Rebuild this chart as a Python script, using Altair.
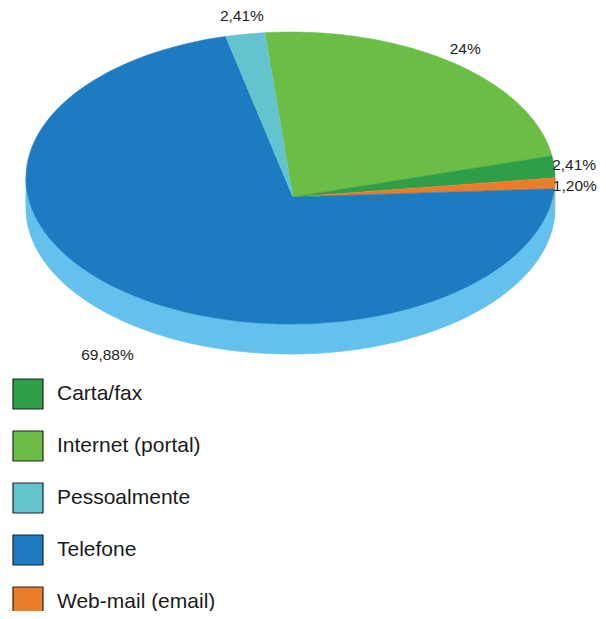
import altair as alt
import pandas as pd

# Slices in drawing order (clockwise starting near 12 o'clock)
categories = ["Internet (portal)", "Carta/fax", "Web-mail (email)", "Telefone", "Pessoalmente"]
values = [24.10, 2.41, 1.20, 69.88, 2.41]
labels = ["24%", "2,41%", "1,20%", "69,88%", "2,41%"]

# Legend order and colours
legend_order = ["Carta/fax", "Internet (portal)", "Pessoalmente", "Telefone", "Web-mail (email)"]
top_colors = ["#2F9E48", "#6BBD45", "#63C3CF", "#1C7BC1", "#EA7D29"]
side_colors = ["#8CCF6A", "#5DB864", "#F4A562", "#64C1ED", "#8FD8E0"]  # drawing order

df = pd.DataFrame({
    "cat": categories,
    "value": values,
    "label": labels,
    "side": side_colors,
    "idx": list(range(len(categories))),
})
legend_df = pd.DataFrame({"cat": legend_order})

# Geometry (pixels in page coordinates) and style constants
W, H = 590, 603
CX, CY = 290.5, 178.0      # ellipse centre
RX, RY = 264.5, 146.0      # ellipse radii
AX, AY = 293.0, 197.0      # apex of the wedges
DEPTH = 30.0
OFF = -5.5 * 3.141592653589793 / 180
LRX, LRY, LD = RX + 20, RY + 18, 67

xs = alt.Scale(domain=[8, 8 + W], nice=False, zero=False)
ys = alt.Scale(domain=[8, 8 + H], nice=False, zero=False, reverse=True)
color_scale = alt.Scale(domain=legend_order, range=top_colors)

base = alt.Chart(df).transform_joinaggregate(
    total="sum(value)"
).transform_window(
    cum="sum(value)", sort=[alt.SortField("idx")], frame=[None, 0]
).transform_calculate(
    t0=f"{OFF} + 2*PI*(datum.cum - datum.value)/datum.total",
    t1=f"{OFF} + 2*PI*datum.cum/datum.total",
)

# Side wall (only front half visible)
N2 = 80
side = base.transform_calculate(
    s0="max(datum.t0, PI/2)", s1="min(datum.t1, 3*PI/2)"
).transform_filter(
    "datum.s1 > datum.s0"
).transform_calculate(
    k=f"sequence(0, {N2 + 1})"
).transform_flatten(["k"]).transform_calculate(
    t=f"datum.s0 + (datum.s1 - datum.s0) * datum.k / {N2}",
).transform_calculate(
    px=f"{CX} + {RX}*sin(datum.t)",
    ey=f"{CY} - {RY}*cos(datum.t)",
    ey2=f"{CY} - {RY}*cos(datum.t) + {DEPTH}",
).mark_area(strokeWidth=0.8).encode(
    x=alt.X("px:Q", scale=xs, axis=None),
    y=alt.Y("ey:Q", scale=ys, axis=None),
    y2="ey2:Q",
    fill=alt.Fill("side:N", scale=None, legend=None),
    stroke=alt.Stroke("side:N", scale=None, legend=None),
    detail="cat:N",
)

# Top face wedges
N = 160
top = base.transform_calculate(
    k=f"sequence(0, {N + 2})"
).transform_flatten(["k"]).transform_calculate(
    t=f"datum.t0 + (datum.t1 - datum.t0) * clamp(datum.k - 1, 0, {N}) / {N}",
).transform_calculate(
    px=f"(datum.k == 0 || datum.k == {N + 2}) ? {AX} : {CX} + {RX}*sin(datum.t)",
    py=f"(datum.k == 0 || datum.k == {N + 2}) ? {AY} : {CY} - {RY}*cos(datum.t)",
).mark_line(strokeWidth=0.6, strokeJoin="round").encode(
    x=alt.X("px:Q", scale=xs, axis=None),
    y=alt.Y("py:Q", scale=ys, axis=None),
    fill=alt.Fill("cat:N", scale=color_scale, legend=None),
    stroke=alt.Stroke("cat:N", scale=color_scale, legend=None),
    order=alt.Order("k:Q"),
)

# Legend (provided by an invisible filled layer so symbols get a dark border)
legend_layer = alt.Chart(legend_df).mark_square(opacity=0, size=10).encode(
    x=alt.value(0),
    y=alt.value(0),
    fill=alt.Fill(
        "cat:N",
        scale=color_scale,
        legend=alt.Legend(
            title=None,
            orient="none",
            legendX=4,
            legendY=370,
            direction="vertical",
            symbolType="square",
            symbolSize=900,
            symbolStrokeColor="#222222",
            symbolStrokeWidth=1.2,
            symbolOpacity=1,
            labelFont="Liberation Sans",
            labelFontSize=21,
            labelColor="#1a1a1a",
            labelOffset=13,
            labelBaseline="middle",
            rowPadding=16,
            labelLimit=300,
        ),
    ),
)

# Percentage labels
text = base.transform_calculate(
    tm="(datum.t0 + datum.t1)/2",
).transform_calculate(
    lx=f"{CX} + {LRX}*sin(datum.tm)",
    ly=f"{CY} - {LRY}*cos(datum.tm) + max(0, -cos(datum.tm))*{LD}",
).mark_text(
    font="Liberation Sans", fontSize=15.5, color="#231F20", align="center", baseline="middle"
).encode(
    x=alt.X("lx:Q", scale=xs, axis=None),
    y=alt.Y("ly:Q", scale=ys, axis=None),
    text="label:N",
)

chart = alt.layer(side, top, text, legend_layer).resolve_scale(
    fill="independent", stroke="independent"
).properties(
    width=W, height=H, padding=0,
    autosize=alt.AutoSizeParams(type="none"),
).configure_view(stroke=None)

chart.save("out.html", embed_options={"renderer": "svg", "actions": False})
